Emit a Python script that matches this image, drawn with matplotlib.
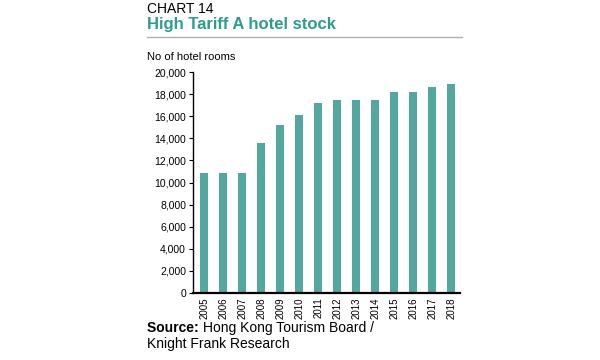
import matplotlib
matplotlib.use('Agg')
import matplotlib.pyplot as plt
import numpy as np

plt.rcParams['font.family'] = ['Liberation Sans', 'DejaVu Sans']

years = ['2005', '2006', '2007', '2008', '2009', '2010', '2011',
         '2012', '2013', '2014', '2015', '2016', '2017', '2018']
rooms = [10830, 10830, 10830, 13600, 15200, 16100, 17200,
         17470, 17470, 17500, 18190, 18190, 18640, 18900]
y_ticks = list(range(0, 20001, 2000))

teal = '#52a89e'

fig = plt.figure(figsize=(6, 3.6), dpi=100)
ax = fig.add_axes([0.3217, 0.1861, 0.445, 0.6139])

x = np.arange(len(years))
ax.bar(x, rooms, width=0.42, color=teal)

ax.set_xlim(-0.6, len(years) - 0.55)
ax.set_ylim(0, 20000)
ax.set_yticks(y_ticks)
ax.set_yticklabels([f'{v:,}' for v in y_ticks], fontsize=7.5)
ax.set_xticks(x)
ax.set_xticklabels(years, rotation=90, fontsize=7)
ax.tick_params(axis='x', length=0, pad=3)
ax.tick_params(axis='y', length=3, width=0.8, pad=2)

for s in ['top', 'right']:
    ax.spines[s].set_visible(False)
ax.spines['left'].set_linewidth(1.0)
ax.spines['bottom'].set_linewidth(1.6)

fig.text(147 / 600, 1 - 9 / 360, 'CHART 14', fontsize=10, va='center', ha='left')
fig.text(147 / 600, 1 - 25 / 360, 'High Tariff A hotel stock', fontsize=12,
         fontweight='bold', color='#2a9d8f', va='center', ha='left')
fig.add_artist(plt.Line2D([147 / 600, 462 / 600], [1 - 37 / 360, 1 - 37 / 360],
                          color='#b0b0b0', linewidth=1))
fig.text(147 / 600, 1 - 57 / 360, 'No of hotel rooms', fontsize=8, va='center', ha='left')

src = fig.text(147 / 600, 1 - 328 / 360, 'Source: ', fontsize=10, fontweight='bold',
               va='center', ha='left')
fig.canvas.draw()
bb = src.get_window_extent(renderer=fig.canvas.get_renderer())
fig.text(bb.x1 / fig.bbox.width, 1 - 328 / 360, 'Hong Kong Tourism Board /', fontsize=10,
         va='center', ha='left')
fig.text(147 / 600, 1 - 344 / 360, 'Knight Frank Research', fontsize=10,
         va='center', ha='left')

fig.savefig('out.png', dpi=100)
